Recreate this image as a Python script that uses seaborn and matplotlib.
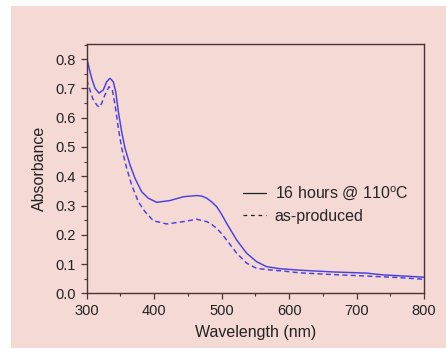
import pandas as pd
import matplotlib
matplotlib.use("Agg")
import matplotlib.pyplot as plt
import seaborn as sns
from matplotlib.patches import Rectangle
from matplotlib.lines import Line2D
from matplotlib.ticker import MultipleLocator

# -----------------------------
# Data
# -----------------------------
wl_annealed = [300, 303.5, 307.4, 312.3, 318.2, 324.6, 329.6, 334.5, 339.4, 343, 346.9,
               351.9, 356.8, 364.2, 371.6, 381.5, 391.3, 403.8, 423.5, 443.2, 463,
               471, 477.9, 485, 492.7, 500, 507.5, 522.3, 537.1, 551.9, 566.7, 586.4,
               616, 665, 714.5, 739, 770, 800]
abs_annealed = [0.805, 0.77, 0.735, 0.701, 0.684, 0.695, 0.723, 0.735, 0.723, 0.689, 0.621,
                0.552, 0.496, 0.439, 0.393, 0.347, 0.325, 0.311, 0.317, 0.330, 0.334,
                0.332, 0.325, 0.313, 0.296, 0.270, 0.239, 0.182, 0.137, 0.108, 0.091,
                0.084, 0.079, 0.073, 0.069, 0.063, 0.059, 0.055]

wl_asprod = [300, 304, 309, 314.8, 318.2, 322, 327, 333, 338, 342, 346.9, 351.9,
             359.3, 366.7, 376.5, 386.4, 398.8, 418.6, 443.2, 463, 478, 485, 492.7,
             500, 507.5, 522.3, 537.1, 552, 571.7, 586.4, 616, 665, 714.5, 760, 800]
abs_asprod = [0.73, 0.70, 0.665, 0.644, 0.636, 0.648, 0.678, 0.706, 0.695, 0.644, 0.564,
              0.496, 0.427, 0.370, 0.313, 0.279, 0.248, 0.237, 0.245, 0.253, 0.245,
              0.236, 0.222, 0.204, 0.182, 0.137, 0.103, 0.085, 0.080, 0.077, 0.070,
              0.064, 0.059, 0.054, 0.048]

labels = ["16 hours @ 110$^{\\mathrm{o}}$C", "as-produced"]

df = pd.concat([
    pd.DataFrame({"Wavelength": wl_annealed, "Absorbance": abs_annealed, "Sample": labels[0]}),
    pd.DataFrame({"Wavelength": wl_asprod, "Absorbance": abs_asprod, "Sample": labels[1]}),
])

# -----------------------------
# Style
# -----------------------------
PINK = "#f4d9d5"
BLUE = "#4a40e0"
DARK = "#4a3434"
TEXT = "#222222"

sns.set_style("ticks")
plt.rcParams["font.family"] = ["Liberation Sans", "DejaVu Sans"]
plt.rcParams["mathtext.fontset"] = "custom"
plt.rcParams["mathtext.rm"] = "Liberation Sans"

fig = plt.figure(figsize=(4.46, 3.49), dpi=100, facecolor="white")
bg = Rectangle((11 / 446, 1 / 349), 435 / 446, 342 / 349,
               transform=fig.transFigure, facecolor=PINK,
               edgecolor="none", zorder=-10)
fig.add_artist(bg)
ax = fig.add_axes([86.7 / 446, (349 - 293.3) / 349, (424 - 86.7) / 446, (293.3 - 44) / 349])
ax.set_facecolor(PINK)

sns.lineplot(data=df, x="Wavelength", y="Absorbance", hue="Sample", style="Sample",
             palette=[BLUE, BLUE], dashes=[(None, None), (3.5, 2.2)], sort=False,
             linewidth=1.05, legend=False, ax=ax)

ax.set_xlim(300, 800)
ax.set_ylim(0, 0.852)
ax.xaxis.set_major_locator(MultipleLocator(100))
ax.xaxis.set_minor_locator(MultipleLocator(50))
ax.yaxis.set_major_locator(MultipleLocator(0.1))
ax.yaxis.set_minor_locator(MultipleLocator(0.05))
ax.tick_params(which="major", length=4.5, width=0.9, color=DARK, labelsize=10.5,
               labelcolor=TEXT, pad=3.5)
ax.tick_params(which="minor", length=2.5, width=0.8, color=DARK)
ax.tick_params(top=False, right=False)
for s in ax.spines.values():
    s.set_color(DARK)
    s.set_linewidth(1.0)

ax.set_xlabel("Wavelength (nm)", fontsize=11.5, color=TEXT, labelpad=5)
ax.set_ylabel("Absorbance", fontsize=11.5, color=TEXT, labelpad=6)

# legend with dark handles, no frame
leg_handles = [Line2D([], [], color=TEXT, lw=0.9),
               Line2D([], [], color=TEXT, lw=0.9, dashes=(3, 3))]
ax.legend(leg_handles, labels, loc="center left", bbox_to_anchor=(0.42, 0.358),
          frameon=False, fontsize=11.5, handlelength=1.45, handletextpad=0.55,
          labelspacing=0.4)

fig.savefig("out.png", dpi=100, facecolor="white")
